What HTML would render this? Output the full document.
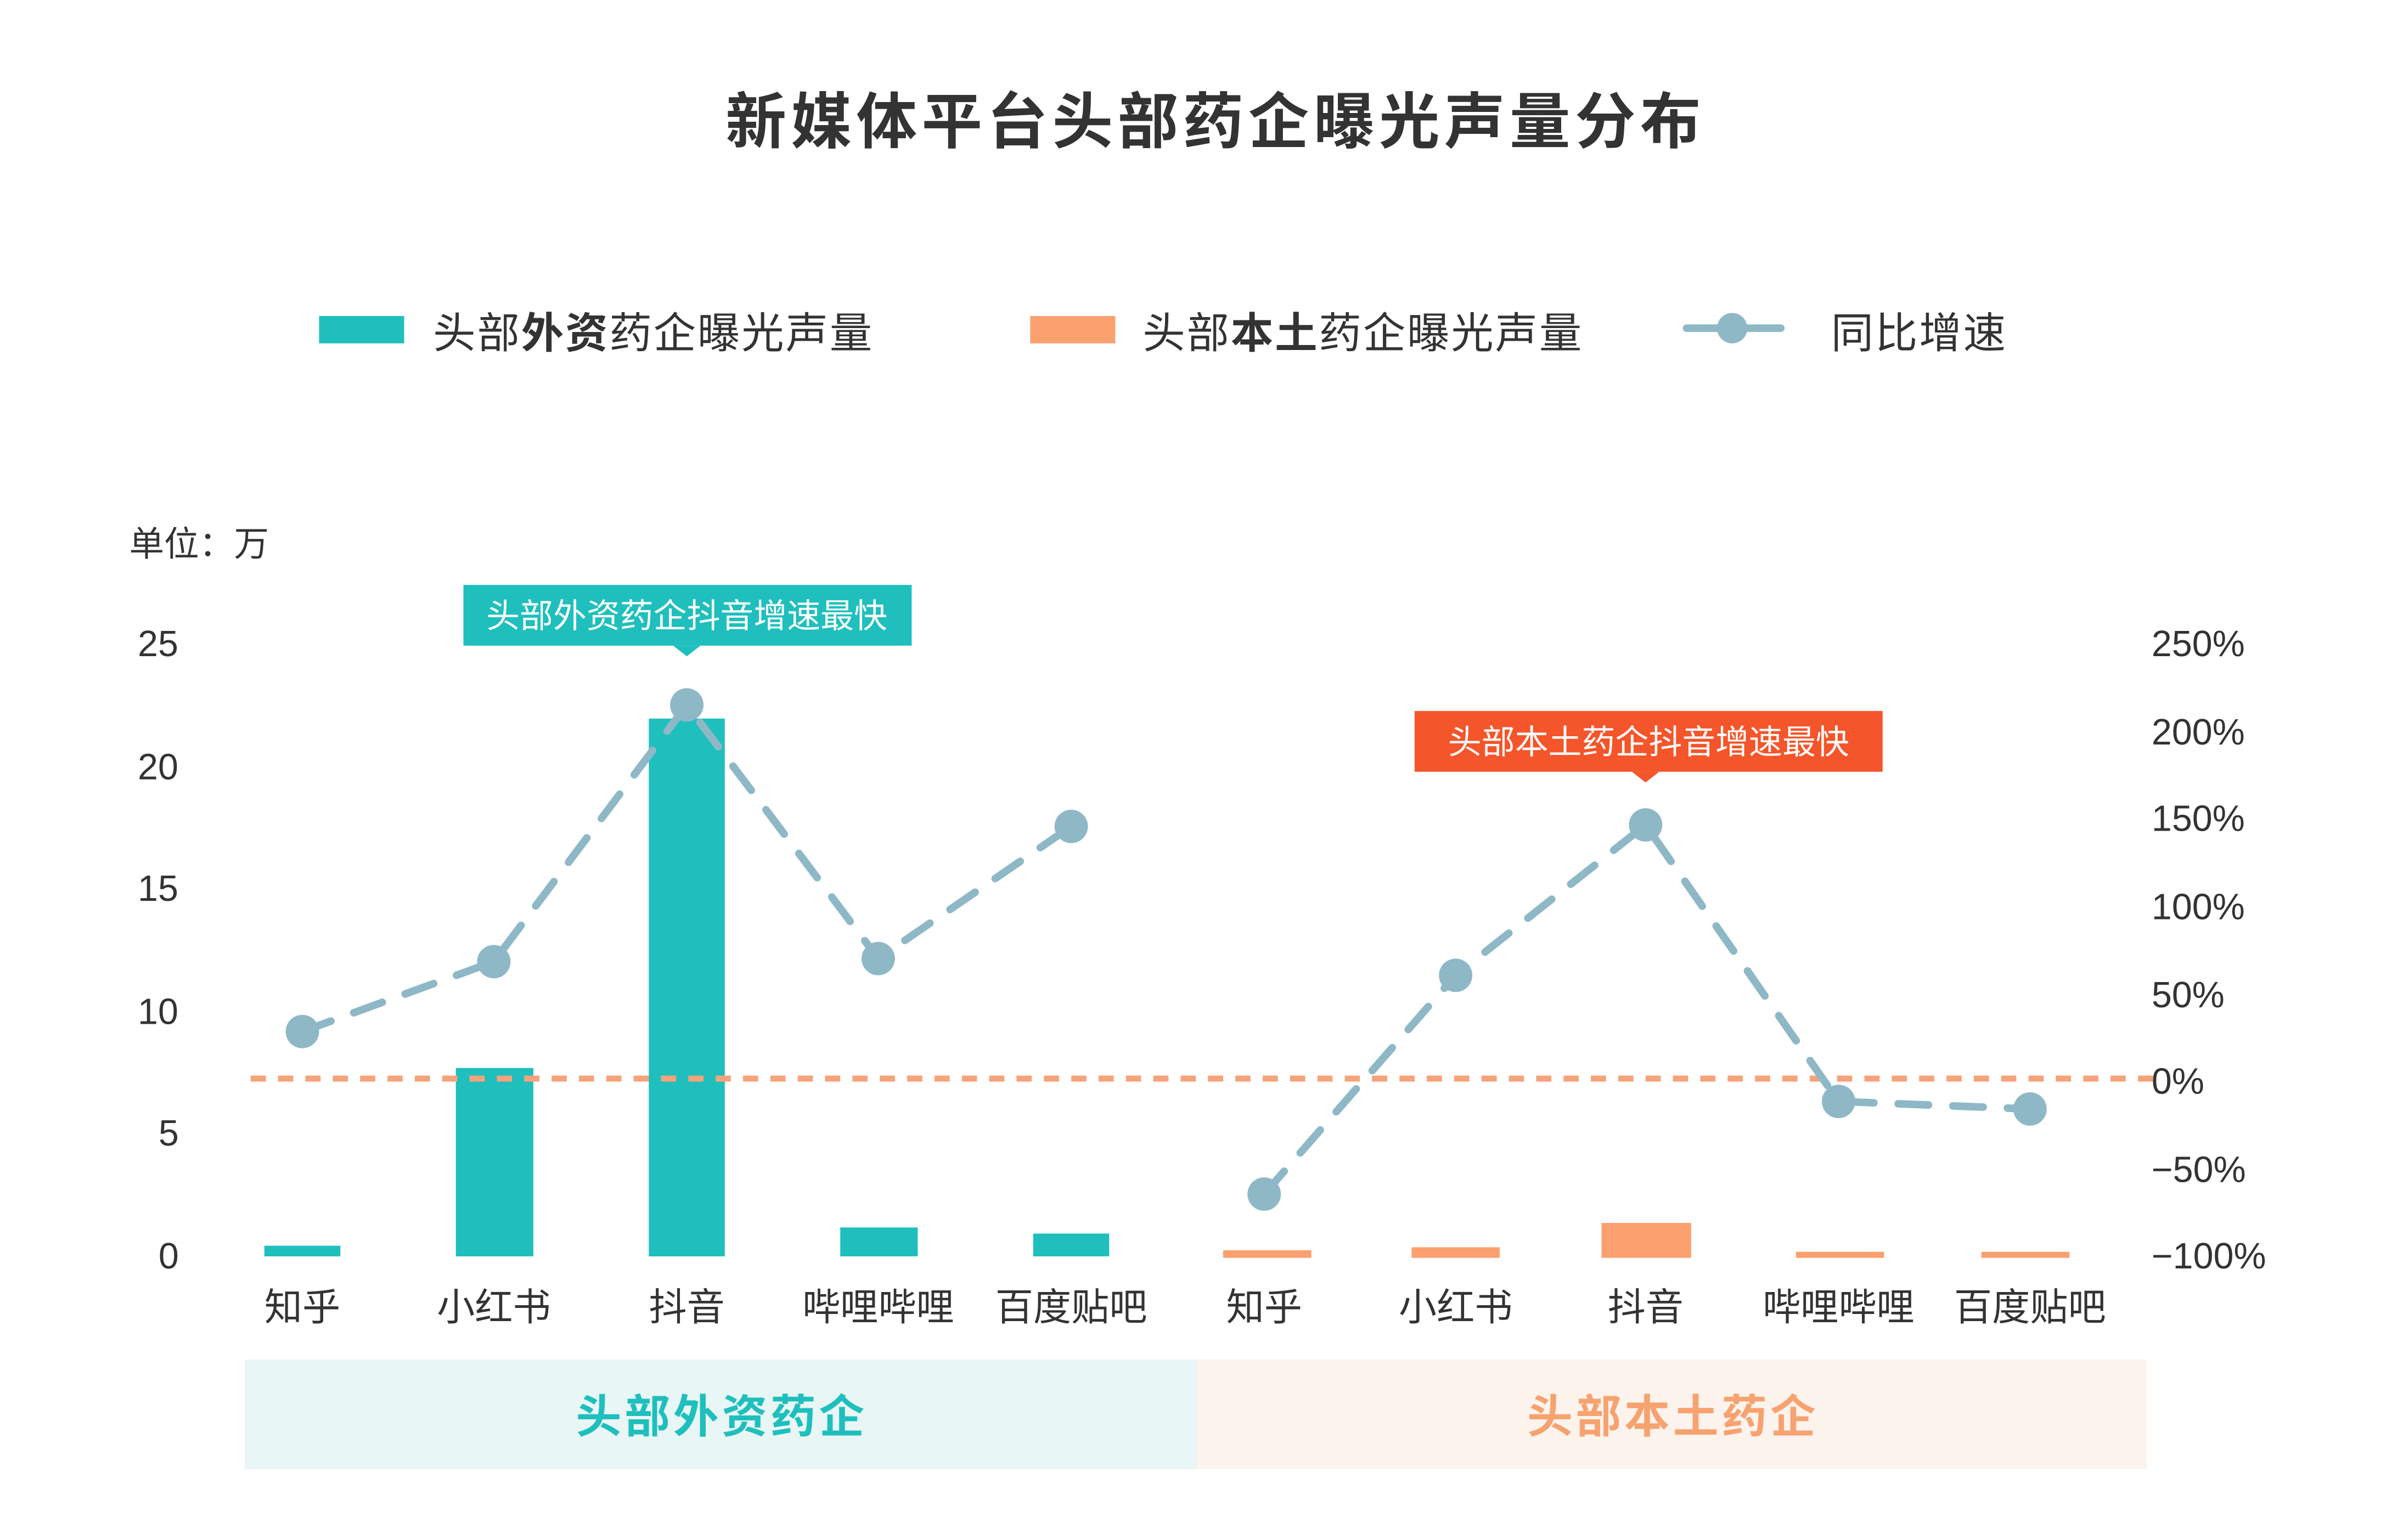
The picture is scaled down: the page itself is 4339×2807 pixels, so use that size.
<!DOCTYPE html>
<html><head><meta charset="utf-8"><style>
html,body{margin:0;padding:0;background:#fff;}
svg{display:block;}
text{font-family:"Liberation Sans","Noto Sans CJK SC",sans-serif;}
</style></head><body>
<svg width="4339" height="2807" viewBox="0 0 1567 1013.7" xmlns="http://www.w3.org/2000/svg">
<rect width="1567" height="1014" fill="#fff"/>
<text x="800" y="94" font-size="40" font-weight="bold" fill="#333" text-anchor="middle" letter-spacing="3">新媒体平台头部药企曝光声量分布</text>
<!-- legend -->
<rect x="210" y="208" width="56" height="18" fill="#1fbfbd"/>
<text x="285" y="229" font-size="28" fill="#333" letter-spacing="1">头部<tspan font-weight="bold">外资</tspan>药企曝光声量</text>
<rect x="678" y="208" width="56" height="18" fill="#fba06f"/>
<text x="752" y="229" font-size="28" fill="#333" letter-spacing="1">头部<tspan font-weight="bold">本土</tspan>药企曝光声量</text>
<line x1="1110" y1="216" x2="1172" y2="216" stroke="#8fb8c6" stroke-width="5" stroke-linecap="round"/>
<circle cx="1140" cy="216" r="10" fill="#8fb8c6"/>
<text x="1205" y="229" font-size="28" fill="#333" letter-spacing="1">同比增速</text>
<text x="85" y="366" font-size="23" fill="#333">单位：万</text>
<!-- left axis -->
<g font-size="24" fill="#333" text-anchor="middle">
<text x="104" y="432">25</text><text x="104" y="513">20</text><text x="104" y="593">15</text>
<text x="104" y="674">10</text><text x="111" y="754">5</text><text x="111" y="835">0</text>
</g>
<g font-size="24" fill="#333">
<text x="1416" y="432">250%</text><text x="1416" y="490">200%</text><text x="1416" y="547">150%</text>
<text x="1416" y="605">100%</text><text x="1416" y="663">50%</text><text x="1416" y="720">0%</text>
<text x="1416" y="778">−50%</text><text x="1416" y="835">−100%</text>
</g>
<!-- bars -->
<g fill="#1fbfbd">
<rect x="174" y="820" width="50" height="7"/>
<rect x="300" y="703" width="51" height="124"/>
<rect x="427" y="473" width="50" height="354"/>
<rect x="553" y="808" width="51" height="19"/>
<rect x="680" y="812" width="50" height="15"/>
</g>
<g fill="#fba06f">
<rect x="805" y="823" width="58" height="5"/>
<rect x="929" y="821" width="58" height="7"/>
<rect x="1054" y="805" width="59" height="23"/>
<rect x="1182" y="824" width="58" height="4"/>
<rect x="1304" y="824" width="58" height="4"/>
</g>
<line x1="165" y1="710" x2="1420" y2="710" stroke="#f5a37a" stroke-width="4" stroke-dasharray="10,8"/>
<!-- lines -->
<g stroke="#8fb8c6" stroke-width="5" stroke-dasharray="20,16" stroke-linecap="round" fill="none">
<polyline points="199,679 325,633 452,464 578,631 705,544"/>
<polyline points="832,786 958,642 1083,543 1210,725 1336,730"/>
</g>
<g fill="#8fb8c6">
<circle cx="199" cy="679" r="11"/><circle cx="325" cy="633" r="11"/><circle cx="452" cy="464" r="11"/>
<circle cx="578" cy="631" r="11"/><circle cx="705" cy="544" r="11"/>
<circle cx="832" cy="786" r="11"/><circle cx="958" cy="642" r="11"/><circle cx="1083" cy="543" r="11"/>
<circle cx="1210" cy="725" r="11"/><circle cx="1336" cy="730" r="11"/>
</g>
<!-- callouts -->
<rect x="305" y="385" width="295" height="40" fill="#1fbfbd"/>
<polygon points="443,425 461,425 452,432" fill="#1fbfbd"/>
<text x="452" y="413" font-size="22" fill="#fff" text-anchor="middle">头部外资药企抖音增速最快</text>
<rect x="931" y="468" width="308" height="40" fill="#f4552a"/>
<polygon points="1074,508 1092,508 1083,515" fill="#f4552a"/>
<text x="1085" y="496" font-size="22" fill="#fff" text-anchor="middle">头部本土药企抖音增速最快</text>
<!-- category labels -->
<g font-size="25" fill="#333" text-anchor="middle">
<text x="199" y="869">知乎</text><text x="325" y="869">小红书</text><text x="452" y="869">抖音</text>
<text x="578" y="869">哔哩哔哩</text><text x="705" y="869">百度贴吧</text>
<text x="832" y="869">知乎</text><text x="958" y="869">小红书</text><text x="1083" y="869">抖音</text>
<text x="1210" y="869">哔哩哔哩</text><text x="1336" y="869">百度贴吧</text>
</g>
<rect x="161" y="895" width="627" height="72" fill="#e8f6f5"/>
<rect x="788" y="895" width="625" height="72" fill="#fdf3ed"/>
<text x="475" y="943" font-size="30" font-weight="bold" fill="#1fbfbd" text-anchor="middle" letter-spacing="2">头部外资药企</text>
<text x="1101" y="943" font-size="30" font-weight="bold" fill="#f7a26f" text-anchor="middle" letter-spacing="2">头部本土药企</text>
</svg>
</body></html>
